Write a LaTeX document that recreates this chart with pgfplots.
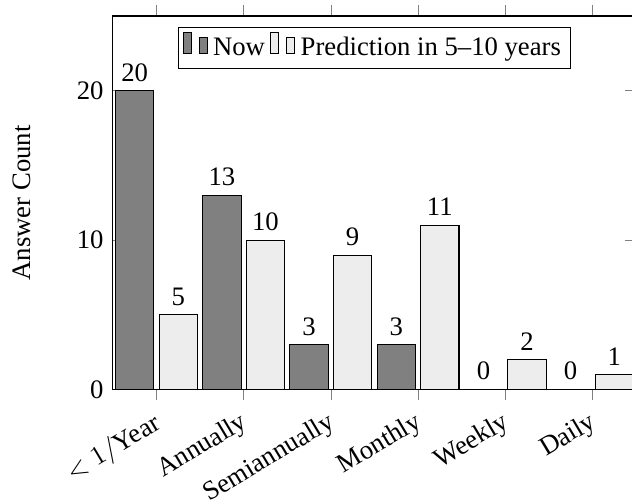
\documentclass[border=0pt]{standalone}
\usepackage{pgfplots}
\pgfplotsset{compat=1.18}
\usepackage{fontspec}
\setmainfont{Liberation Serif}
\definecolor{nowc}{RGB}{128,128,128}
\definecolor{predc}{RGB}{237,237,237}
\begin{document}
\begin{tikzpicture}
\begin{axis}[name=ax, scale only axis, width=196pt, height=140pt,
  ybar, bar width=0.44,
  xmin=-0.5, xmax=5.5, ymin=0, ymax=25,
  xtick={0,...,5},
  xticklabels={$<1/$Year, Annually, Semiannually, Monthly, Weekly, Daily},
  x tick label style={rotate=31, anchor=north east, yshift=1.2pt},
  ytick={0,10,20},
  xtick align=outside, ytick align=inside,
  major tick length=4pt,
  tick style={gray},
  /pgf/number format/assume math mode=true,
  ylabel={Answer Count},
  every axis y label/.style={at={(rel axis cs:0,0.5)}, xshift=-34pt, rotate=90, anchor=center},
  nodes near coords,
  legend columns=-1,
  legend style={at={(0.5,0.97)}, anchor=north, draw=black, inner sep=1.5pt},
]
\addplot[fill=nowc, draw=black, bar shift=-0.25] coordinates {(0,20)(1,13)(2,3)(3,3)(4,0)(5,0)};
\addplot[fill=predc, draw=black, bar shift=0.25] coordinates {(0,5)(1,10)(2,9)(3,11)(4,2)(5,1)};
\legend{Now, Prediction in 5--10 years}
\end{axis}
\path (ax.south west) ++(-42.3pt,-42.7pt) coordinate (bba);
\path (ax.north east) ++(-1.5pt,6pt) coordinate (bbb);
\pgfresetboundingbox
\path[use as bounding box] (bba) rectangle (bbb);
\end{tikzpicture}
\end{document}
